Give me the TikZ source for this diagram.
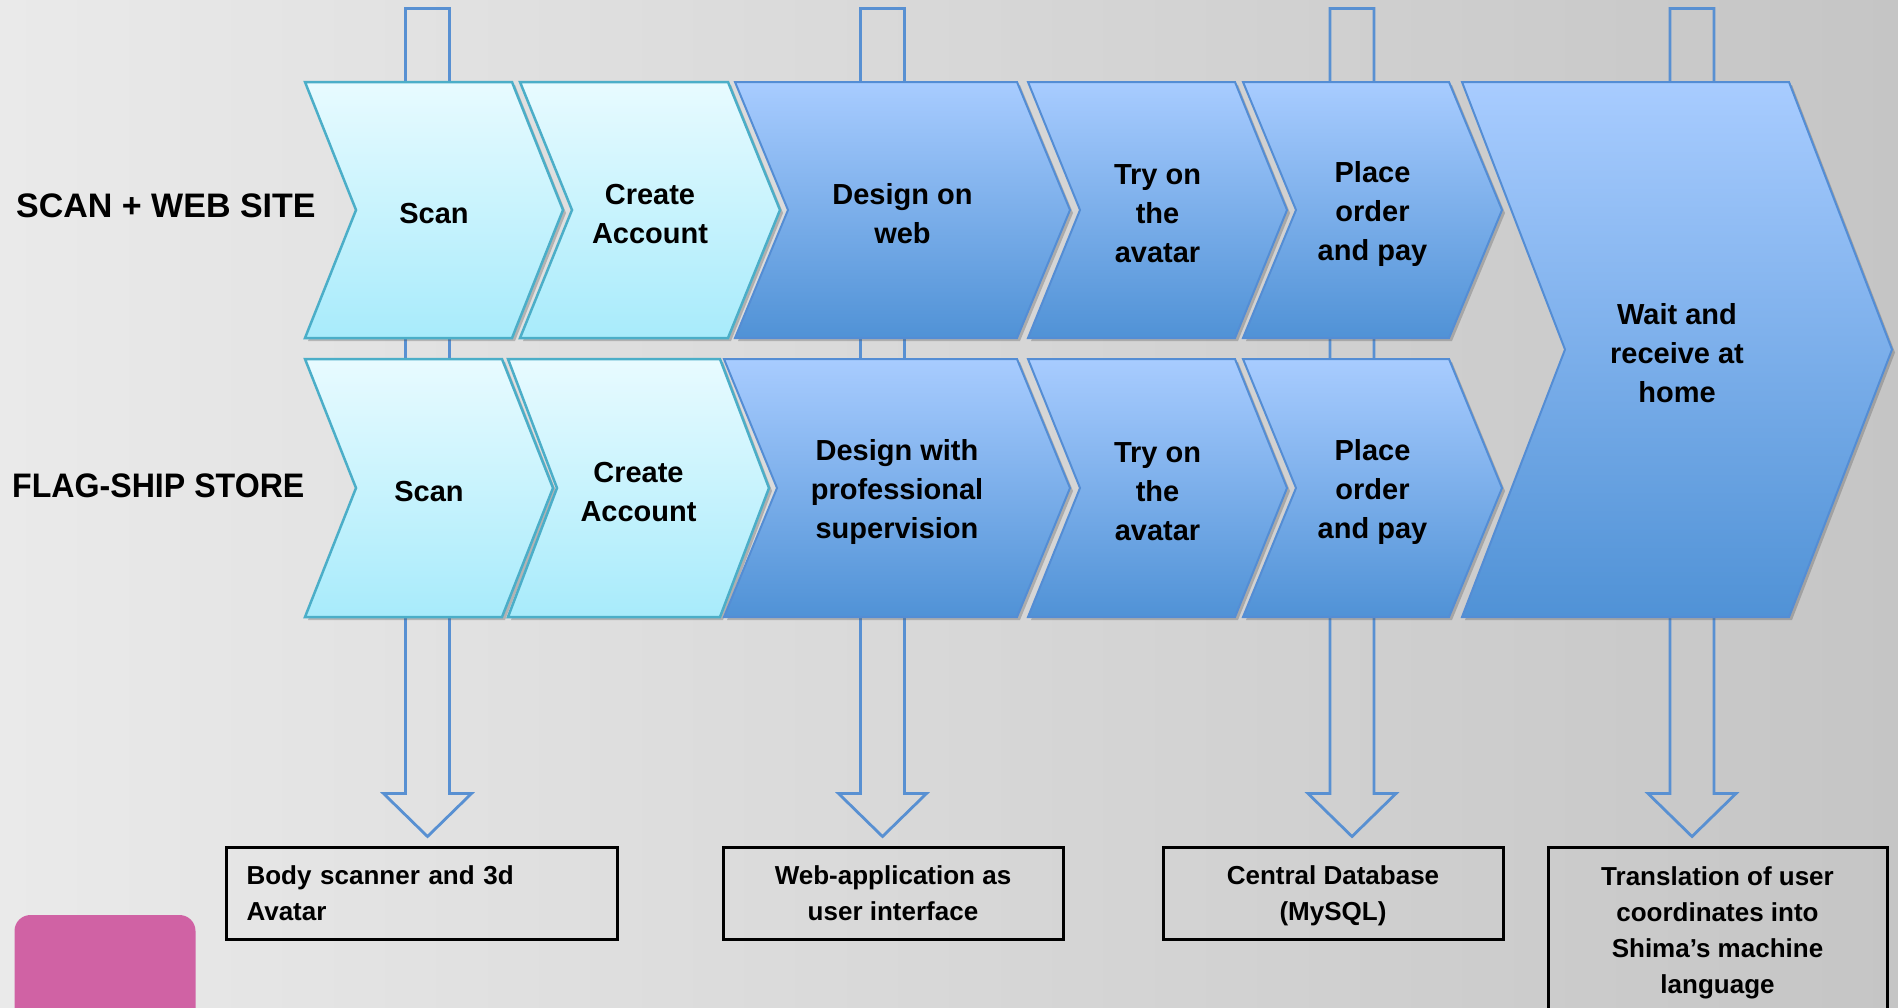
\documentclass[tikz,border=0pt]{standalone}
\usepackage{fontspec}
\setmainfont{Liberation Sans}
\usetikzlibrary{calc,shadows}
\definecolor{bgL}{RGB}{234,234,234}
\definecolor{bgR}{RGB}{197,197,197}
\definecolor{ltTop}{RGB}{232,251,255}
\definecolor{ltBot}{RGB}{168,235,251}
\definecolor{ltLine}{RGB}{75,174,200}
\definecolor{dkTop}{RGB}{168,204,255}
\definecolor{dkBot}{RGB}{80,146,214}
\definecolor{dkLine}{RGB}{84,141,212}
\definecolor{arrowBlue}{RGB}{88,144,210}
\definecolor{pinkish}{RGB}{208,98,164}
\tikzset{
 chevshadow/.style={drop shadow={shadow xshift=3pt, shadow yshift=-3pt, opacity=0.3, fill=black!70}},
 lightchev/.style={chevshadow, draw=ltLine, line width=2.5pt, top color=ltTop, bottom color=ltBot, line join=miter},
 darkchev/.style={chevshadow, draw=dkLine, line width=2pt, top color=dkTop, bottom color=dkBot, line join=miter},
 chevtext/.style={font=\bfseries\fontsize{29}{39}\selectfont, align=center, text=black, inner sep=0pt},
 rowlabel/.style={font=\bfseries\fontsize{34}{40}\selectfont, inner sep=0pt, text=black},
 infobox/.style={draw=black, line width=3pt, font=\bfseries\fontsize{26}{36}\selectfont, align=center, inner sep=0pt},
 hollow/.style={draw=arrowBlue, line width=2.8pt, line join=miter},
 pinkbox/.style={fill=pinkish, rounded corners=16pt, minimum width=181pt, minimum height=120pt, inner sep=0pt}
}
% #1 name, #2 x left, #3 x top-right, #4 y top, #5 y bottom, #6 depth, #7 style
\newcommand{\chevshape}[7]{%
 \path[#7] (#2,#4) -- (#3,#4) -- ({#3+#6},{(#4+#5)/2}) -- (#3,#5) -- (#2,#5) -- ({#2+#6},{(#4+#5)/2}) -- cycle;
 \coordinate (#1) at ({(#2+#3+#6)/2},{(#4+#5)/2+4});}
% #1 top coordinate, #2 target box node
\newcommand{\hollowarrow}[2]{%
 \draw[hollow] ($(#1)+(-22,0)$) -- ($(#1 |- #2.north)+(-22,-52)$) -- ($(#1 |- #2.north)+(-44,-52)$)
   -- ($(#1 |- #2.north)+(0,-9)$) -- ($(#1 |- #2.north)+(44,-52)$) -- ($(#1 |- #2.north)+(22,-52)$)
   -- ($(#1)+(22,0)$) -- cycle;}
\begin{document}
\begin{tikzpicture}[x=1pt,y=-1pt]
\useasboundingbox (0,0) rectangle (1898,1007);
\clip (0,0) rectangle (1898,1007);
\shade[left color=bgL, right color=bgR] (0,0) rectangle (1898,1007);

% info boxes
\node[infobox, minimum width=391pt, minimum height=92pt, text width=350pt, align=left] (box1) at (421.5,893) {Body scanner and 3d\\Avatar};
\node[infobox, minimum width=340pt, minimum height=92pt] (box2) at (893,893) {Web-application as\\user interface};
\node[infobox, minimum width=340pt, minimum height=92pt] (box3) at (1333,893) {Central Database\\\smash{(MySQL)}};
\node[infobox, minimum width=339pt, minimum height=166pt] (box4) at (1717.5,930) {Translation of user\\coordinates into\\Shima’s machine\\\smash{language}};

% arrow top ends
\coordinate (t1) at (427.5,8.5);
\coordinate (t2) at (882.5,8.5);
\coordinate (t3) at (1352,8.5);
\coordinate (t4) at (1692,8.5);
\hollowarrow{t1}{box1}
\hollowarrow{t2}{box2}
\hollowarrow{t3}{box3}
\hollowarrow{t4}{box4}

% top row
\chevshape{cScanA}{305}{512}{82}{338}{51}{lightchev}
\chevshape{cCreateA}{520}{728}{82}{338}{52}{lightchev}
\chevshape{cDesignA}{735}{1017}{82}{338}{53}{darkchev}
\chevshape{cTryA}{1028}{1235}{82}{338}{52}{darkchev}
\chevshape{cPlaceA}{1243}{1449}{82}{338}{53}{darkchev}
\chevshape{cWait}{1462}{1789}{82}{617}{103}{darkchev}
% bottom row
\chevshape{cScanB}{305}{502}{359}{617}{51}{lightchev}
\chevshape{cCreateB}{508}{720}{359}{617}{49}{lightchev}
\chevshape{cDesignB}{724}{1017}{359}{617}{53}{darkchev}
\chevshape{cTryB}{1028}{1235}{359}{617}{52}{darkchev}
\chevshape{cPlaceB}{1243}{1449}{359}{617}{53}{darkchev}

\node[chevtext] (tScanA) at (cScanA) {Scan};
\node[chevtext] (tCreateA) at (cCreateA) {Create\\Account};
\node[chevtext] (tDesignA) at (cDesignA) {Design on\\web};
\node[chevtext] (tTryA) at (cTryA) {Try on\\the\\avatar};
\node[chevtext] (tPlaceA) at (cPlaceA) {Place\\order\\and pay};
\node[chevtext] (tWait) at (cWait) {Wait and\\receive at\\home};
\node[chevtext] (tScanB) at (cScanB) {Scan};
\node[chevtext] (tCreateB) at (cCreateB) {Create\\Account};
\node[chevtext] (tDesignB) at (cDesignB) {Design with\\professional\\supervision};
\node[chevtext] (tTryB) at (cTryB) {Try on\\the\\avatar};
\node[chevtext] (tPlaceB) at (cPlaceB) {Place\\order\\and pay};

% row labels
\node[rowlabel, anchor=base west] (lab1) at (16,217) {SCAN + WEB SITE};
\node[rowlabel, anchor=base west] (lab2) at (12,497) {\addfontfeature{FakeStretch=0.945}FLAG-SHIP STORE};

% pink square
\node[pinkbox] (pink) at (105,975) {};
\end{tikzpicture}
\end{document}
